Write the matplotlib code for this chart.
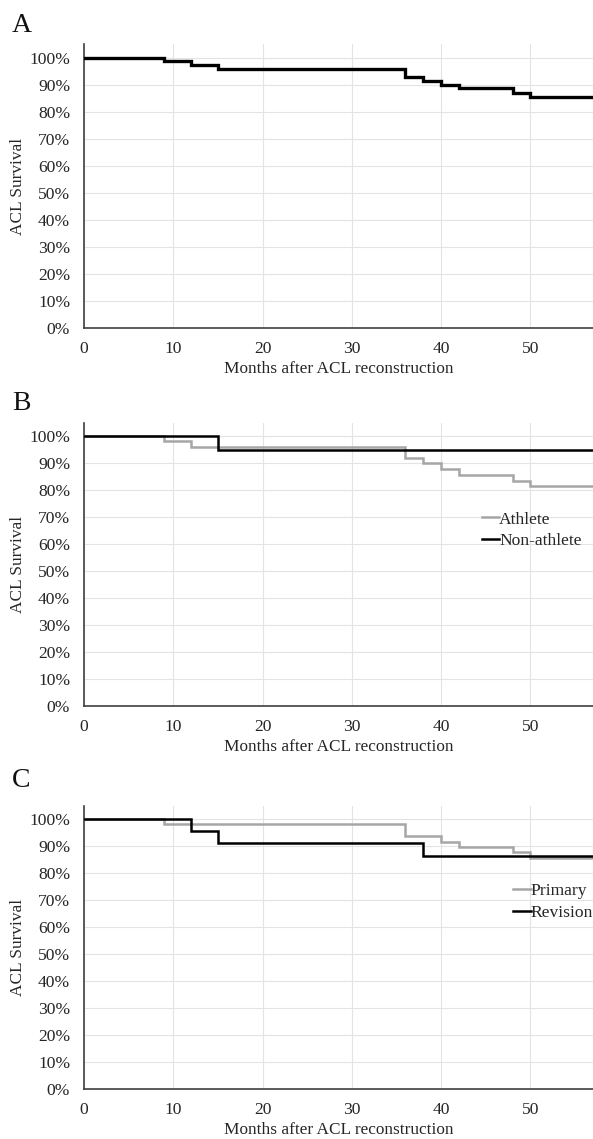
import matplotlib
matplotlib.use('agg')
import matplotlib.pyplot as plt
from matplotlib.ticker import PercentFormatter

# months at which an event happened, and survival (%) after it
follow_up_end = 57

all_times = [0, 9, 12, 15, 36, 38, 40, 42, 48, 50]
all_surv = [100, 98.8, 97.3, 95.9, 92.8, 91.3, 89.8, 88.6, 87.0, 85.6]

athlete_times = [0, 9, 12, 36, 38, 40, 42, 48, 50]
athlete_surv = [100, 98.0, 96.0, 91.9, 89.9, 87.8, 85.5, 83.5, 81.4]
nonathlete_times = [0, 15]
nonathlete_surv = [100, 95.0]

primary_times = [0, 9, 36, 40, 42, 48, 50]
primary_surv = [100, 98.1, 93.7, 91.6, 89.6, 87.6, 85.4]
revision_times = [0, 12, 15, 38]
revision_surv = [100, 95.5, 91.0, 86.4]

panel_names = ['A', 'B', 'C']
x_ticks = [0, 10, 20, 30, 40, 50]
y_ticks = list(range(0, 101, 10))

GRAY = '#a6a6a6'
TEXT = '#262626'

plt.rcParams['font.family'] = ['Liberation Serif', 'DejaVu Serif']
plt.rcParams['font.size'] = 12.4


def km_step(ax, times, surv, color, lw, label=None):
    xs = list(times) + [follow_up_end]
    ys = list(surv) + [surv[-1]]
    ax.step(xs, ys, where='post', color=color, lw=lw, label=label,
            solid_joinstyle='miter', zorder=3)


def style_axes(ax):
    ax.set_xlim(0, follow_up_end)
    ax.set_ylim(0, 105)
    ax.set_xticks(x_ticks)
    ax.set_yticks(y_ticks)
    ax.yaxis.set_major_formatter(PercentFormatter(decimals=0))
    ax.grid(True, color='#e3e3e3', lw=0.8, zorder=0)
    ax.set_axisbelow(True)
    for side in ['top', 'right']:
        ax.spines[side].set_visible(False)
    for side in ['left', 'bottom']:
        ax.spines[side].set_color('#404040')
        ax.spines[side].set_linewidth(1.2)
    ax.tick_params(length=0, colors=TEXT, labelsize=12.6)
    ax.tick_params(axis='y', pad=10)
    ax.tick_params(axis='x', pad=9.5)
    ax.set_xlabel('Months after ACL reconstruction', color=TEXT, labelpad=3)
    ax.set_ylabel('ACL Survival', color=TEXT, labelpad=2)


fig = plt.figure(figsize=(5.93, 11.39), dpi=100)
left = 84 / 593
width = 1 - left
height = 283.5 / 1139
bottoms = [1 - 327.7 / 1139, 1 - 706 / 1139, 1 - 1089 / 1139]
label_y = [1 - 32 / 1139, 1 - 410 / 1139, 1 - 787 / 1139]

axes = [fig.add_axes([left, b, width, height]) for b in bottoms]

km_step(axes[0], all_times, all_surv, 'black', 2.4)

km_step(axes[1], athlete_times, athlete_surv, GRAY, 1.8, 'Athlete')
km_step(axes[1], nonathlete_times, nonathlete_surv, 'black', 1.8, 'Non-athlete')

km_step(axes[2], primary_times, primary_surv, GRAY, 1.8, 'Primary')
km_step(axes[2], revision_times, revision_surv, 'black', 1.8, 'Revision')

for ax in axes:
    style_axes(ax)

axes[1].legend(loc='center left', bbox_to_anchor=(0.75, 0.62), frameon=False,
               handlelength=1.0, handletextpad=0.0, labelspacing=0.3,
               fontsize=12.6, labelcolor=TEXT)
axes[2].legend(loc='center left', bbox_to_anchor=(0.812, 0.66), frameon=False,
               handlelength=1.0, handletextpad=0.0, labelspacing=0.3,
               fontsize=12.6, labelcolor=TEXT)

for name, y in zip(panel_names, label_y):
    fig.text(12 / 593, y, name, fontsize=20, va='baseline', ha='left', color='#111111')

fig.savefig('out.png', dpi=100)
